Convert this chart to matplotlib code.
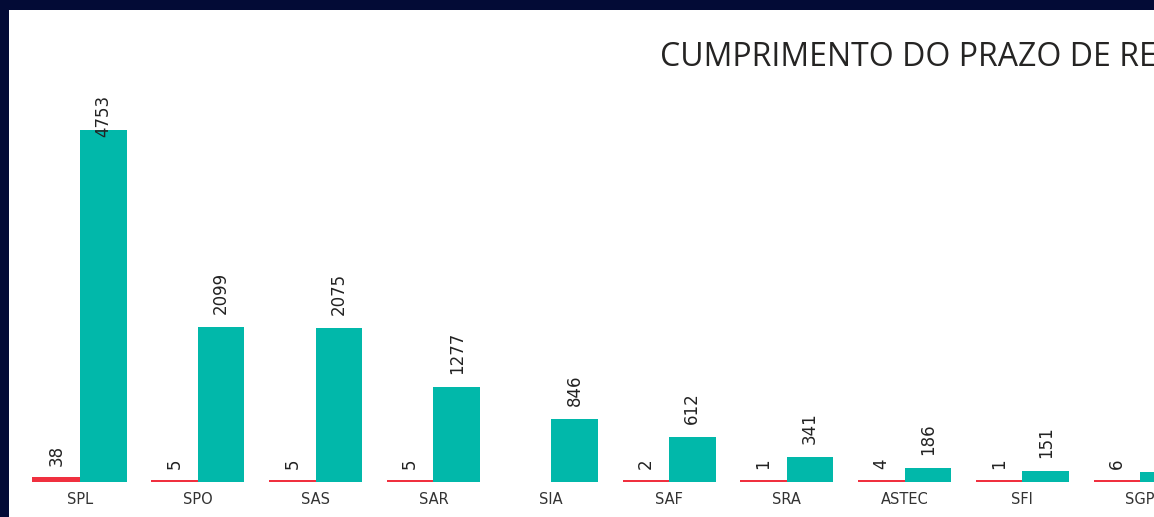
import numpy as np
import matplotlib
matplotlib.use("Agg")
import matplotlib.pyplot as plt
from matplotlib.patches import Rectangle

# data
categories = ["SPL", "SPO", "SAS", "SAR", "SIA", "SAF", "SRA", "ASTEC", "SFI", "SGP"]
fora_prazo = [38, 5, 5, 5, None, 2, 1, 4, 1, 6]
no_prazo = [4753, 2099, 2075, 1277, 846, 612, 341, 186, 151, 138]
title = "CUMPRIMENTO DO PRAZO DE RESPOSTA"

RED = "#F0303F"
TEAL = "#01B8AA"
NAVY = "#030B36"

W, H = 1154, 517
fig = plt.figure(figsize=(W / 100, H / 100), dpi=100, facecolor=NAVY)
fig.patches.append(Rectangle((9 / W, 0), 1, 1 - 10 / H, transform=fig.transFigure,
                             facecolor="white", edgecolor="none", zorder=-10))

# axes placed so the baseline sits at y=482 px and groups are 117.8 px apart
px_per_cat = 117.8
x0_px = 80
ax = fig.add_axes([9 / W, 35 / H, 1 - 9 / W, (482 - 10) / H])
ax.set_facecolor("none")
xmax = (W - x0_px) / px_per_cat
ax.set_xlim((9 - x0_px) / px_per_cat, xmax)
px_per_unit = 352 / 4753
ax.set_ylim(0, 472 / px_per_unit)

x = np.arange(len(categories))
bw = 46.5 / px_per_cat
red_vals = [v if v is not None else 0 for v in fora_prazo]
red_bars = ax.bar(x - bw / 2, red_vals, width=bw, color=RED, edgecolor=RED,
                  linewidth=1.6, antialiased=False)
for b, v in zip(red_bars, fora_prazo):
    if v is None:
        b.set_visible(False)
teal_bars = ax.bar(x + bw / 2, no_prazo, width=bw, color=TEAL, edgecolor="none", zorder=3)

plot_top = (482 - 95) / px_per_unit
gap = 13 / px_per_unit
lab_kw = dict(rotation=90, ha="center", fontsize=12, color="#222222", family="DejaVu Sans")
for xi, vals in ((x - bw / 2, fora_prazo), (x + bw / 2, no_prazo)):
    for xx, v in zip(xi, vals):
        if v is None or xx > xmax:
            continue
        txt_len = len(str(v)) * 11.75 / px_per_unit
        if v + gap + txt_len > plot_top:
            ax.text(xx, plot_top, str(v), va="top", zorder=4, **lab_kw)
        else:
            ax.text(xx, v + gap, str(v), va="bottom", zorder=4, **lab_kw)

ax.set_xticks(x)
ax.set_xticklabels(categories, fontsize=10.5, color="#333333", family="DejaVu Sans")
ax.tick_params(axis="x", length=0, pad=7)
ax.set_yticks([])
for s in ax.spines.values():
    s.set_visible(False)

fig.text(660 / W, 1 - 57 / H, title, ha="left", va="center", fontsize=23,
         color="#252423", family="Open Sans")

fig.savefig("out.png", dpi=100, facecolor=NAVY)
